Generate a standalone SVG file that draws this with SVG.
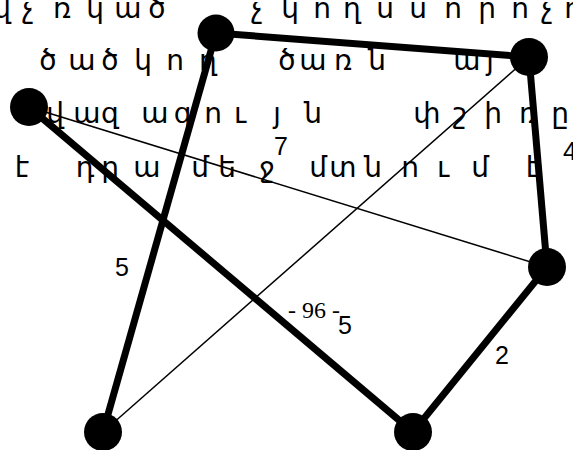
<svg xmlns="http://www.w3.org/2000/svg" width="573" height="450" viewBox="0 0 573 450">
<style>
.bg{fill:#fff}
.t{font-family:"DejaVu Sans",sans-serif;font-size:28px;fill:#000;text-anchor:middle}
.thick{stroke:#000;stroke-width:7;fill:none;stroke-linecap:butt}
.thin{stroke:#000;stroke-width:1.5;fill:none}
.n{fill:#000}
.lbl{font-family:"Liberation Sans",Arial,sans-serif;font-size:25px;fill:#000;text-anchor:middle}
.pg{font-family:"Liberation Serif","Times New Roman",serif;font-size:24px;fill:#000;text-anchor:middle}
</style>
<rect class="bg" width="573" height="450"/>
<g id="text">
<text class="t" y="18" x="2 28 62 95 128 157 257 290 322 352 385 418 453 487 520 547 573">վչռկածչկողսսորոչո</text>
<text class="t" y="70" x="48 82 110 143 175 208 287 313 343 377 467 490">ծածկողծառնայ</text>
<text class="t" y="123" x="55 87 110 155 183 213 240 277 313 427 460 493 528 560">վազագույնփշիռը</text>
<text class="t" y="177" x="22 85 110 147 200 227 267 318 343 373 410 443 480 533">էդրամեջմտնումէ</text>
</g>
<g id="connectors">
<line class="thick" x1="216" y1="33" x2="529" y2="57"/>
<line class="thick" x1="216" y1="33" x2="103" y2="432"/>
<line class="thick" x1="529" y1="57" x2="547" y2="267"/>
<line class="thick" x1="547" y1="267" x2="413" y2="432"/>
<line class="thick" x1="29" y1="107" x2="413" y2="432"/>
<line class="thin" x1="29" y1="107" x2="547" y2="267"/>
<line class="thin" x1="529" y1="57" x2="103" y2="432"/>
<text class="lbl" x="122" y="276">5</text>
<text class="lbl" x="281" y="155">7</text>
<text class="lbl" x="570" y="160">4</text>
<text class="lbl" x="345" y="334">5</text>
<text class="lbl" x="502" y="364">2</text>
<text class="pg" x="314" y="318">- 96 -</text>
</g>
<g id="nA"><circle class="n" cx="216" cy="33" r="18.5"/></g>
<g id="nB"><circle class="n" cx="529" cy="57" r="19"/></g>
<g id="nC"><circle class="n" cx="29" cy="107" r="19"/></g>
<g id="nD"><circle class="n" cx="547" cy="267" r="19"/></g>
<g id="nE"><circle class="n" cx="103" cy="432" r="19"/></g>
<g id="nF"><circle class="n" cx="413" cy="432" r="19"/></g>
</svg>
